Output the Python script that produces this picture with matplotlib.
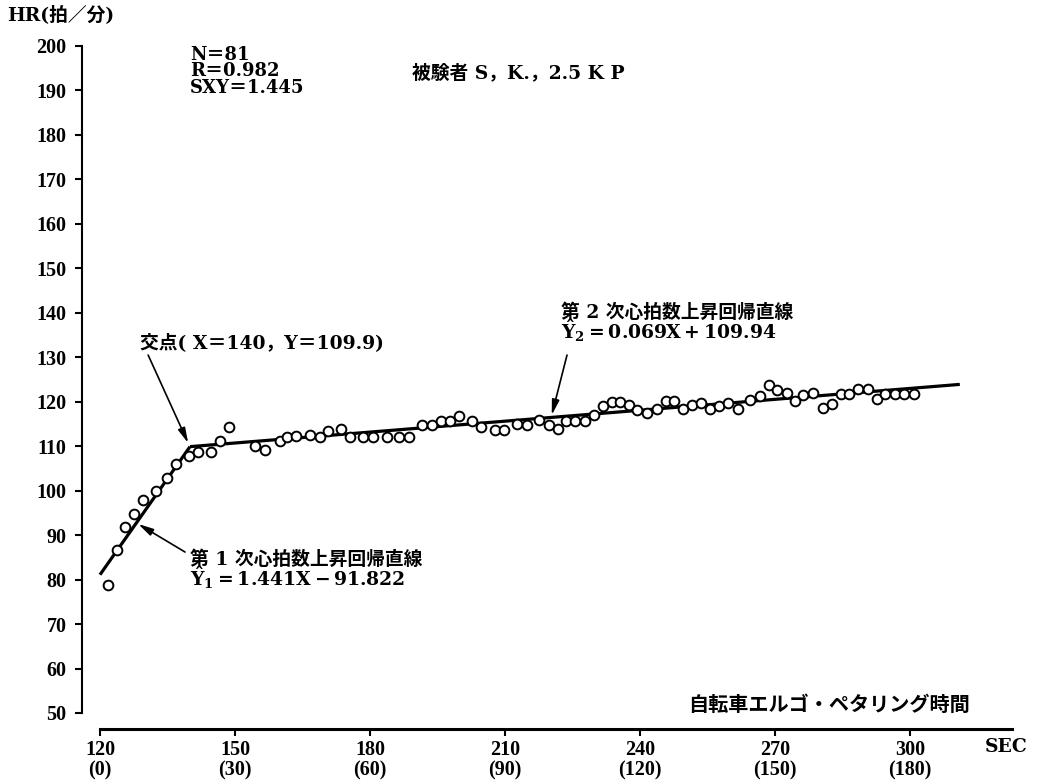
import matplotlib
matplotlib.use("Agg")
import matplotlib.pyplot as plt

plt.rcParams['font.family'] = ['DejaVu Serif', 'Noto Sans CJK JP']
plt.rcParams['font.weight'] = 'bold'
plt.rcParams['mathtext.fontset'] = 'dejavuserif'
tick_font = ['Liberation Serif', 'DejaVu Serif']

# ---- data ----
sec = [121.8, 123.8, 125.5, 127.6, 129.6, 132.4, 134.8, 136.8, 139.8, 141.8,
       144.7, 146.7, 148.7, 154.5, 156.6, 160.0, 161.6, 163.6, 166.7, 168.9,
       170.7, 173.6, 175.6, 178.4, 180.7, 183.7, 186.4, 188.7, 191.5, 193.7,
       195.8, 197.8, 199.8, 202.6, 204.7, 207.8, 209.8, 212.7, 214.8, 217.5,
       219.8, 221.8, 223.6, 225.6, 227.8, 229.8, 231.7, 233.7, 235.6, 237.6,
       239.4, 241.5, 243.7, 245.8, 247.6, 249.6, 251.5, 253.6, 255.6, 257.6,
       259.6, 261.8, 264.4, 266.8, 268.6, 270.4, 272.6, 274.4, 276.3, 278.5,
       280.6, 282.6, 284.6, 286.5, 288.5, 290.7, 292.6, 294.4, 296.7, 298.7,
       300.9]
hr = [78.8, 86.7, 91.8, 94.7, 98.0, 100.0, 102.9, 106.0, 107.8, 108.8,
      108.7, 111.2, 114.4, 110.1, 109.2, 111.2, 112.1, 112.3, 112.5, 112.1,
      113.5, 113.8, 112.1, 112.1, 112.1, 112.1, 112.1, 112.1, 114.8, 114.8,
      115.7, 115.7, 116.8, 115.7, 114.4, 113.6, 113.6, 114.9, 114.8, 115.9,
      114.8, 113.8, 115.7, 115.7, 115.7, 117.0, 119.1, 120.0, 120.0, 119.3,
      118.1, 117.4, 118.3, 120.2, 120.2, 118.3, 119.3, 119.7, 118.3, 119.0,
      119.7, 118.3, 120.4, 121.4, 123.8, 122.6, 121.9, 120.2, 121.5, 121.9,
      118.5, 119.4, 121.7, 121.7, 122.8, 122.8, 120.6, 121.7, 121.7, 121.7,
      121.7]

line1_x = [120, 140]
line1_y = [81.1, 109.9]
line2_x = [140, 311.1]
line2_y = [109.9, 123.9]

xticks = [120, 150, 180, 210, 240, 270, 300]
xtick_labels = ["120\n(0)", "150\n(30)", "180\n(60)", "210\n(90)",
                "240\n(120)", "270\n(150)", "300\n(180)"]
yticks = list(range(50, 201, 10))

W, H = 1045, 782
fig = plt.figure(figsize=(W / 100, H / 100), dpi=100)
ax = fig.add_axes([82 / W, 69 / H, 930 / W, 667 / H])

ax.plot(line1_x, line1_y, color='k', lw=2.3, solid_capstyle='butt', zorder=2)
ax.plot(line2_x, line2_y, color='k', lw=2.3, solid_capstyle='butt', zorder=2)
ax.plot(sec, hr, 'o', ms=7, mfc='white', mec='k', mew=1.4, zorder=3)

ax.set_xlim(116, 322.7)
ax.set_ylim(50, 200)

for s in ['top', 'right']:
    ax.spines[s].set_visible(False)
ax.spines['left'].set_linewidth(1.5)
ax.spines['bottom'].set_linewidth(2.2)
ax.spines['bottom'].set_position(('outward', 11.5))
ax.spines['bottom'].set_bounds(120, 322.7)

ax.set_xticks(xticks)
ax.set_xticklabels(xtick_labels, fontsize=14.5, linespacing=1.0, family=tick_font)
ax.set_yticks(yticks)
ax.set_yticklabels([str(v) for v in yticks], fontsize=14.5, family=tick_font)
ax.tick_params(axis='y', direction='out', length=5, width=1.5, pad=6)
ax.tick_params(axis='x', direction='out', length=5, width=1.5, pad=3)

# texts
fs = 13.5
fig.text(7 / W, 1 - 15 / H, "HR(拍／分)", fontsize=fs, va='center', ha='left')
fig.text(985 / W, 1 - 747 / H, "SEC", fontsize=fs, va='center', ha='left')

ax.text(140, 194.3, "N＝81\nR＝0.982\nSXY＝1.445", fontsize=13, va='center',
        linespacing=0.88)
ax.text(189.3, 193.9, "被験者 S，K.，2.5 K P", fontsize=fs, va='center')

arrow = dict(arrowstyle='-|>,head_width=0.22,head_length=0.9', color='k',
             lw=1.2, shrinkA=0, shrinkB=0)

ax.text(128.9, 133.2, "交点( X＝140，Y＝109.9)", fontsize=fs, va='center')
ax.annotate("", xy=(139.6, 110.7), xytext=(130.7, 130.5), arrowprops=arrow)

ax.text(222.4, 137.6,
        "第 2 次心拍数上昇回帰直線\n$\\hat{\\mathbf{Y}}_{\\mathbf{2}}\\mathbf{=0.069X+109.94}$",
        fontsize=fs, va='center', linespacing=0.78)
ax.annotate("", xy=(220.4, 117.0), xytext=(223.8, 130.5), arrowprops=arrow)

ax.text(140, 81.9,
        "第 1 次心拍数上昇回帰直線\n$\\hat{\\mathbf{Y}}_{\\mathbf{1}}\\mathbf{=1.441X-91.822}$",
        fontsize=fs, va='center', linespacing=0.78)
ax.annotate("", xy=(128.5, 92.5), xytext=(138.9, 86.2), arrowprops=arrow)

ax.text(313.3, 51.8, "自転車エルゴ・ペタリング時間", fontsize=14.5, va='center', ha='right')

fig.savefig("out.png", dpi=100)
